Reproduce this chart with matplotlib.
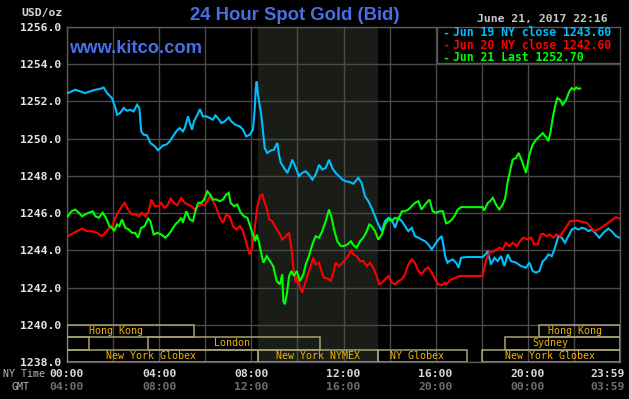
import matplotlib
matplotlib.use("Agg")
import matplotlib.pyplot as plt
from matplotlib.patches import Rectangle
from matplotlib.transforms import blended_transform_factory

# ---------------- data (NY time in hours, price USD/oz) ----------------
jun19 = [(0.04,1252.45),(0.36,1252.63),(0.79,1252.45),(1.00,1252.54),(1.23,1252.63),(1.45,1252.68),
         (1.59,1252.75),(1.74,1252.45),(1.95,1252.18),(2.10,1251.65),(2.17,1251.29),(2.31,1251.38),
         (2.46,1251.65),(2.60,1251.50),(2.75,1251.55),(2.89,1251.46),(3.04,1251.82),(3.14,1251.65),
         (3.22,1250.39),(3.33,1250.21),(3.47,1250.18),(3.62,1249.77),(3.81,1249.59),(3.95,1249.38),
         (4.17,1249.64),(4.31,1249.68),(4.46,1249.86),(4.60,1250.12),(4.74,1250.39),(4.89,1250.57),
         (5.03,1250.39),(5.11,1250.57),(5.25,1251.20),(5.33,1250.84),(5.43,1250.48),(5.51,1250.93),
         (5.66,1251.29),(5.77,1251.59),(5.90,1251.20),(6.05,1251.20),(6.19,1251.11),(6.34,1251.02),
         (6.44,1251.25),(6.55,1251.11),(6.70,1250.84),(6.84,1250.93),(7.02,1251.14),(7.13,1250.93),
         (7.30,1250.75),(7.50,1250.66),(7.64,1250.48),(7.78,1250.12),(7.93,1250.21),(8.07,1250.48),
         (8.15,1251.65),(8.19,1252.63),(8.23,1253.07),(8.29,1252.36),(8.38,1251.65),(8.43,1251.29),
         (8.52,1250.21),(8.58,1249.50),(8.69,1249.23),(8.84,1249.36),(8.98,1249.41),(9.13,1249.77),
         (9.20,1249.14),(9.28,1248.70),(9.42,1248.43),(9.56,1248.16),(9.68,1248.51),(9.78,1248.87),
         (9.93,1248.43),(10.07,1247.98),(10.21,1248.16),(10.36,1248.25),(10.50,1248.07),(10.65,1247.80),
         (10.79,1248.07),(10.94,1248.60),(11.08,1248.34),(11.23,1248.43),(11.37,1248.87),(11.51,1248.43),
         (11.66,1248.16),(11.81,1247.98),(11.95,1247.80),(12.10,1247.71),(12.24,1247.68),(12.43,1247.58),
         (12.64,1247.89),(12.79,1247.62),(12.93,1246.91),(13.08,1246.64),(13.22,1246.28),(13.37,1245.83),
         (13.51,1245.39),(13.66,1245.03),(13.80,1245.57),(13.95,1245.75),(14.09,1245.66),(14.24,1245.21),
         (14.38,1245.75),(14.53,1245.57),(14.67,1245.30),(14.81,1245.03),(14.96,1245.21),(15.10,1244.76),
         (15.25,1244.68),(15.39,1244.58),(15.54,1244.49),(15.68,1244.32),(15.83,1244.05),(15.97,1244.32),
         (16.12,1244.58),(16.26,1244.76),(16.33,1244.32),(16.41,1243.69),(16.51,1243.34),(16.59,1243.42),
         (16.74,1243.51),(16.88,1243.34),(17.00,1243.07),(17.10,1243.60),(17.32,1243.64),(18.04,1243.64),
         (18.16,1243.78),(18.26,1243.96),(18.40,1243.24),(18.55,1243.60),(18.69,1243.42),(18.84,1243.69),
         (18.98,1243.15),(19.13,1243.78),(19.27,1243.42),(19.49,1243.34),(19.70,1243.15),(19.92,1243.07),
         (20.07,1243.34),(20.21,1242.89),(20.36,1242.80),(20.50,1242.89),(20.65,1243.42),(20.75,1243.51),
         (20.89,1243.78),(21.04,1243.69),(21.18,1244.14),(21.32,1244.76),(21.47,1244.68),(21.61,1244.41),
         (21.76,1244.76),(21.91,1245.12),(22.05,1245.21),(22.19,1245.12),(22.34,1245.21),(22.48,1245.17),
         (22.63,1245.03),(22.77,1245.12),(22.92,1244.94),(23.10,1244.68),(23.28,1244.94),(23.49,1245.17),
         (23.64,1245.03),(23.83,1244.76),(23.97,1244.68)]

jun20 = [(0.04,1244.76),(0.22,1244.89),(0.43,1245.03),(0.65,1245.17),(0.87,1245.03),(1.09,1245.03),
         (1.30,1244.94),(1.52,1244.76),(1.66,1244.94),(1.81,1245.17),(1.95,1245.30),(2.10,1245.75),
         (2.24,1246.10),(2.39,1246.37),(2.50,1246.55),(2.65,1246.19),(2.82,1245.93),(2.99,1245.93),
         (3.14,1245.83),(3.26,1246.02),(3.40,1245.83),(3.55,1246.10),(3.66,1246.73),(3.81,1246.37),
         (3.95,1246.37),(4.09,1246.55),(4.24,1246.28),(4.38,1246.46),(4.50,1246.78),(4.64,1246.55),
         (4.79,1246.42),(4.96,1246.82),(5.11,1246.55),(5.25,1246.46),(5.40,1246.37),(5.54,1246.19),
         (5.69,1246.37),(5.83,1246.46),(5.98,1246.42),(6.09,1246.64),(6.19,1246.91),(6.34,1246.64),
         (6.48,1246.28),(6.63,1245.75),(6.77,1245.48),(6.91,1245.93),(7.06,1245.83),(7.20,1245.30),
         (7.35,1245.12),(7.50,1245.30),(7.64,1245.03),(7.74,1244.58),(7.86,1244.05),(7.93,1243.78),
         (8.03,1244.14),(8.15,1245.21),(8.26,1246.35),(8.38,1246.91),(8.48,1247.00),(8.58,1246.55),
         (8.67,1246.28),(8.77,1245.66),(8.91,1245.57),(9.06,1245.21),(9.20,1244.94),(9.34,1244.58),
         (9.49,1244.76),(9.64,1244.94),(9.74,1244.14),(9.82,1243.07),(9.93,1242.26),(10.00,1242.62),
         (10.11,1242.00),(10.21,1241.73),(10.32,1242.17),(10.43,1242.62),(10.58,1243.15),(10.69,1243.60),
         (10.79,1243.24),(10.94,1243.33),(11.04,1242.89),(11.15,1242.53),(11.30,1242.49),(11.45,1242.35),
         (11.56,1242.80),(11.66,1243.34),(11.81,1243.15),(11.95,1243.33),(12.10,1243.51),(12.24,1243.78),
         (12.34,1243.99),(12.43,1243.78),(12.57,1243.69),(12.72,1243.42),(12.86,1243.42),(13.01,1243.15),
         (13.15,1243.33),(13.29,1243.07),(13.44,1242.62),(13.55,1242.17),(13.66,1242.26),(13.80,1242.44),
         (13.95,1242.62),(14.09,1242.26),(14.24,1242.17),(14.38,1242.35),(14.53,1242.44),(14.67,1242.71),
         (14.81,1243.24),(14.96,1243.51),(15.10,1243.33),(15.25,1242.89),(15.39,1242.71),(15.54,1242.98),
         (15.68,1243.07),(15.83,1242.80),(15.97,1242.44),(16.12,1242.17),(16.26,1242.13),(16.41,1242.26),
         (16.45,1242.17),(16.67,1242.44),(16.88,1242.53),(17.03,1242.62),(18.04,1242.62),(18.11,1243.07),
         (18.19,1243.51),(18.33,1243.87),(18.55,1243.96),(18.76,1244.14),(18.91,1244.05),(19.05,1244.41),
         (19.20,1244.23),(19.34,1244.41),(19.52,1244.23),(19.66,1244.49),(19.80,1244.68),(20.00,1244.58),
         (20.14,1244.68),(20.28,1244.32),(20.43,1244.32),(20.57,1244.85),(20.67,1244.89),(20.82,1244.76),
         (20.96,1244.85),(21.11,1244.68),(21.25,1244.85),(21.40,1244.76),(21.54,1245.03),(21.69,1245.30),
         (21.83,1245.57),(21.98,1245.57),(22.19,1245.60),(22.34,1245.53),(22.56,1245.48),(22.70,1245.30),
         (22.87,1245.03),(23.06,1245.12),(23.28,1245.30),(23.49,1245.48),(23.68,1245.66),(23.83,1245.78),
         (23.97,1245.71)]

jun21 = [(0.04,1245.83),(0.19,1246.10),(0.36,1246.19),(0.51,1246.02),(0.65,1245.83),(0.79,1245.93),
         (0.94,1246.02),(1.12,1246.10),(1.23,1245.83),(1.38,1245.75),(1.55,1246.02),(1.69,1245.75),
         (1.84,1245.30),(1.95,1245.21),(2.05,1245.03),(2.17,1245.39),(2.27,1245.30),(2.39,1245.66),
         (2.53,1245.21),(2.68,1245.12),(2.82,1244.94),(2.96,1244.94),(3.08,1244.68),(3.22,1245.21),
         (3.37,1245.30),(3.52,1245.71),(3.62,1245.57),(3.76,1244.85),(3.91,1244.94),(4.09,1244.85),
         (4.27,1244.68),(4.41,1244.85),(4.56,1245.12),(4.70,1245.39),(4.85,1245.57),(4.96,1245.75),
         (5.03,1245.48),(5.18,1246.10),(5.33,1245.66),(5.47,1245.57),(5.57,1246.10),(5.69,1246.55),
         (5.83,1246.55),(5.95,1246.73),(6.09,1247.17),(6.19,1247.03),(6.34,1246.73),(6.48,1246.73),
         (6.63,1246.64),(6.77,1246.73),(6.91,1247.00),(7.02,1247.09),(7.10,1246.55),(7.25,1246.37),
         (7.39,1246.46),(7.54,1246.02),(7.68,1245.83),(7.83,1245.75),(7.97,1245.21),(8.07,1244.85),
         (8.17,1244.49),(8.23,1244.85),(8.32,1244.49),(8.41,1243.96),(8.52,1243.34),(8.67,1243.69),
         (8.81,1243.42),(8.95,1243.15),(9.10,1242.35),(9.24,1242.17),(9.34,1242.71),(9.39,1241.28),
         (9.45,1241.10),(9.54,1241.63),(9.64,1242.62),(9.74,1242.89),(9.85,1242.62),(9.97,1242.89),
         (10.11,1242.35),(10.26,1242.71),(10.36,1243.24),(10.50,1243.69),(10.65,1244.32),(10.79,1244.76),
         (10.94,1244.68),(11.08,1245.03),(11.23,1245.57),(11.37,1246.19),(11.47,1245.83),(11.59,1245.12),
         (11.73,1244.49),(11.88,1244.23),(12.02,1244.23),(12.17,1244.32),(12.32,1244.49),(12.43,1244.28),
         (12.57,1244.14),(12.72,1244.49),(12.86,1244.68),(13.01,1245.03),(13.12,1245.39),(13.22,1245.30),
         (13.37,1245.03),(13.51,1244.58),(13.66,1244.85),(13.80,1245.39),(13.95,1245.66),(14.09,1245.57),
         (14.24,1245.75),(14.38,1245.66),(14.53,1246.10),(14.67,1246.10),(14.81,1246.19),(14.96,1246.37),
         (15.10,1246.55),(15.25,1246.64),(15.39,1246.19),(15.54,1246.46),(15.73,1246.73),(15.87,1246.10),
         (16.02,1246.02),(16.16,1246.10),(16.31,1246.10),(16.45,1245.45),(16.56,1245.50),(16.71,1245.66),
         (16.81,1245.83),(16.96,1246.19),(17.10,1246.32),(18.04,1246.32),(18.11,1246.14),(18.26,1246.55),
         (18.36,1246.64),(18.48,1246.82),(18.62,1246.46),(18.76,1246.19),(18.91,1246.46),(19.02,1246.82),
         (19.13,1247.71),(19.23,1248.25),(19.34,1248.87),(19.49,1248.97),(19.60,1249.23),(19.75,1248.78),
         (19.92,1248.16),(20.07,1249.14),(20.21,1249.68),(20.36,1249.95),(20.50,1250.12),(20.65,1250.30),
         (20.76,1250.12),(20.82,1250.04),(20.89,1249.86),(20.99,1250.39),(21.08,1251.11),(21.18,1251.73),
         (21.28,1252.18),(21.40,1252.09),(21.51,1251.82),(21.66,1252.09),(21.80,1252.54),(21.91,1252.72),
         (22.01,1252.63),(22.10,1252.75),(22.19,1252.68),(22.27,1252.70)]

legend_labels = ["Jun 19 NY close 1243.60", "Jun 20 NY close 1242.60", "Jun 21 Last 1252.70"]
series_colors = ["#00bfff", "#ff0000", "#00ff00"]
y_ticks = [1238, 1240, 1242, 1244, 1246, 1248, 1250, 1252, 1254, 1256]
ny_ticks = [0, 4, 8, 12, 16, 20, 23.48]
ny_labels = ["00:00", "04:00", "08:00", "12:00", "16:00", "20:00", "23:59"]
gmt_labels = ["04:00", "08:00", "12:00", "16:00", "20:00", "00:00", "03:59"]
# sessions: (row, start hour, end hour, label, label-centre hour)
sessions = [(0, 0.0, 5.5, "Hong Kong", 2.13), (0, 20.5, 24.0, "Hong Kong", 22.05),
            (1, 0.0, 0.95, "", 0.5), (1, 3.5, 11.0, "London", 7.16), (1, 19.0, 24.0, "Sydney", 20.96),
            (2, 0.0, 8.3, "New York Globex", 3.65), (2, 8.3, 13.5, "New York NYMEX", 10.9),
            (2, 13.5, 17.35, "NY Globex", 15.2), (2, 18.0, 24.0, "New York Globex", 20.96)]

MONO = "DejaVu Sans Mono"
fig = plt.figure(figsize=(6.29, 3.99), dpi=100, facecolor="black")
ax = fig.add_axes([67/629, 37/399, 553/629, 335/399])
ax.set_facecolor("black")
ax.set_xlim(0, 24)
ax.set_ylim(1238, 1256)

# NYMEX shading
ax.axvspan(8.3, 13.5, color="#1a1c18", zorder=0.5, lw=0)

# grid
for h in range(0, 25, 2):
    ax.axvline(h, color="#4a4a4a", lw=1.0, zorder=1)
for v in y_ticks:
    ax.axhline(v, color="#4a4a4a", lw=1.0, zorder=1)
for s in ax.spines.values():
    s.set_color("#5a5a5a")
    s.set_linewidth(1.0)

ax.set_xticks([])
ax.set_yticks(y_ticks)
ax.set_yticklabels([f"{v:.1f}" for v in y_ticks], family=MONO, fontweight="bold",
                   fontsize=8.2, color="#e6e6e6")
ax.tick_params(axis="y", length=0, pad=4)

# sessions
row_h = 2/3
for row, a, b, lab, c in sessions:
    y0 = 1240 - (row + 1) * row_h
    ax.add_patch(Rectangle((a, y0), b - a, row_h, fill=False, ec="#a8a272", lw=1.1, zorder=3))
    if lab:
        ax.text(c, y0 + row_h/2, lab, family=MONO, fontsize=7.2, color="#f0b400",
                ha="center", va="center", zorder=3)

# price lines
for data, col in zip([jun19, jun20, jun21], series_colors):
    xs = [p[0] for p in data]
    ys = [p[1] for p in data]
    ax.plot(xs, ys, color=col, lw=1.5, zorder=4, solid_joinstyle="miter")

# legend box
ax.add_patch(Rectangle((16.06, 1254.07), 24 - 16.06, 1256 - 1254.07, fc="black",
                       ec="#5a5a5a", lw=1.0, zorder=5))
for i, (lab, col) in enumerate(zip(legend_labels, series_colors)):
    yy = 1255.68 - i * 0.67
    ax.text(16.28, yy, "-", family=MONO, fontweight="bold", fontsize=8.3, color=col,
            ha="left", va="center", zorder=6)
    ax.text(16.75, yy, lab, family=MONO, fontweight="bold", fontsize=8.3, color=col,
            ha="left", va="center", zorder=6)

# header texts
fig.text(295/629, 1 - 15/399, "24 Hour Spot Gold (Bid)", family="Liberation Sans",
         fontweight="bold", fontsize=13.3, color="#4a6ee6", ha="center", va="center")
fig.text(69/629, 1 - 48.5/399, "www.kitco.com", family="Liberation Sans", fontweight="bold",
         fontsize=13.2, color="#4a6ee6", ha="left", va="center")
fig.text(608/629, 1 - 19/399, "June 21, 2017 22:16", family=MONO, fontweight="bold",
         fontsize=8.2, color="#c8c8c8", ha="right", va="center")
fig.text(21/629, 1 - 13/399, "USD/oz", family=MONO, fontweight="bold",
         fontsize=8.2, color="#d8d8d8", ha="left", va="center")

# time axis labels
tr = blended_transform_factory(ax.transData, fig.transFigure)
for h, a, g in zip(ny_ticks, ny_labels, gmt_labels):
    fig.text(h, 1 - 374/399, a, transform=tr, family=MONO, fontweight="bold", fontsize=8.2,
             color="#d8d8d8", ha="center", va="center")
    fig.text(h, 1 - 387/399, g, transform=tr, family=MONO, fontweight="bold", fontsize=8.2,
             color="#6e6e6e", ha="center", va="center")
fig.text(3/629, 1 - 374/399, "NY Time", family=MONO, fontsize=7.2, color="#b8b8b8",
         ha="left", va="center")
fig.text(20/629, 1 - 386.5/399, "GMT", family=MONO, fontsize=7.2, color="#b8b8b8",
         ha="center", va="center")

fig.savefig("out.png", dpi=100, facecolor="black")
